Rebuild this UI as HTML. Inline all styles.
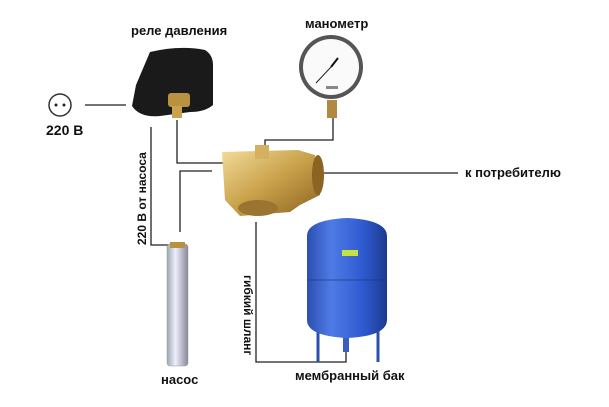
<!DOCTYPE html>
<html><head><meta charset="utf-8"><style>
html,body{margin:0;padding:0;background:#fff}
svg{display:block}
text{font-family:"Liberation Sans",sans-serif;font-weight:bold;fill:#111}
</style></head><body>
<svg width="609" height="407" viewBox="0 0 609 407" xmlns="http://www.w3.org/2000/svg">
<defs>
<linearGradient id="brass" x1="0" y1="0" x2="1" y2="1">
<stop offset="0" stop-color="#f2dc98"/><stop offset="0.5" stop-color="#c9a04a"/><stop offset="1" stop-color="#8a6420"/></linearGradient>
<linearGradient id="blue" x1="0" y1="0" x2="1" y2="0">
<stop offset="0" stop-color="#2a4fb0"/><stop offset="0.3" stop-color="#4f7be6"/><stop offset="0.7" stop-color="#2e5ad0"/><stop offset="1" stop-color="#1d3a90"/></linearGradient>
<linearGradient id="steel" x1="0" y1="0" x2="1" y2="0">
<stop offset="0" stop-color="#9aa"/><stop offset="0.4" stop-color="#eef"/><stop offset="1" stop-color="#889"/></linearGradient>
</defs>
<g stroke="#222" stroke-width="1.3" fill="none">
<line x1="85" y1="105" x2="126" y2="105"/>
<polyline points="177,120 177,163 225,163"/>
<polyline points="212,171 180,171 180,232"/>
<polyline points="151,127 151,245 172,245"/>
<polyline points="333,118 333,140 265,140 265,148"/>
<line x1="323" y1="173" x2="458" y2="173"/>
<polyline points="256,222 256,362 346,362 346,352"/>
</g>
<!-- socket -->
<circle cx="60" cy="105" r="11" fill="#fff" stroke="#333" stroke-width="1.5"/>
<circle cx="56" cy="105" r="1.5" fill="#222"/><circle cx="64" cy="105" r="1.5" fill="#222"/>
<text x="46" y="135" font-size="14">220 В</text>
<!-- relay -->
<path d="M150,52 Q180,45 205,50 Q213,55 213,65 L213,105 Q205,112 190,112 L160,116 Q140,118 132,106 L136,85 Z" fill="#1a1a1a"/>
<rect x="168" y="93" width="22" height="14" rx="3" fill="#b8923f"/>
<rect x="172" y="106" width="10" height="12" fill="#c8a24e"/>
<text x="131" y="35" font-size="13">реле давления</text>
<!-- manometer -->
<circle cx="331" cy="67" r="32" fill="#555"/>
<circle cx="331" cy="67" r="28" fill="#fafafa"/>
<line x1="331" y1="67" x2="338" y2="58" stroke="#111" stroke-width="2"/>
<line x1="331" y1="67" x2="316" y2="83" stroke="#222" stroke-width="1"/>
<rect x="326" y="86" width="12" height="3" fill="#888"/>
<rect x="327" y="100" width="10" height="18" fill="#b08a40"/>
<text x="305" y="28" font-size="13">манометр</text>
<!-- fitting -->
<path d="M222,152 L298,150 L315,155 L320,195 L300,205 L290,212 L240,216 L225,200 Z" fill="url(#brass)"/>
<rect x="255" y="145" width="14" height="14" fill="#d4b060"/>
<ellipse cx="318" cy="175" rx="6" ry="20" fill="#8a6420"/>
<ellipse cx="258" cy="208" rx="20" ry="8" fill="#9a7430"/>
<text x="465" y="177" font-size="13">к потребителю</text>
<!-- pump -->
<rect x="167" y="244" width="21" height="122" rx="3" fill="url(#steel)" stroke="#999" stroke-width="0.5"/>
<rect x="170" y="242" width="15" height="6" fill="#b8923f"/>
<text x="161" y="384" font-size="13">насос</text>
<text transform="translate(146,245) rotate(-90)" font-size="12">220 В от насоса</text>
<!-- tank -->
<line x1="318" y1="325" x2="318" y2="362" stroke="#2a4fb0" stroke-width="3"/>
<line x1="378" y1="325" x2="378" y2="362" stroke="#2a4fb0" stroke-width="3"/>
<rect x="343" y="330" width="6" height="22" fill="#3a5fc0"/>
<path d="M307,236 Q307,220 347,218 Q387,220 387,236 L387,320 Q387,336 347,338 Q307,336 307,320 Z" fill="url(#blue)"/>
<line x1="307" y1="280" x2="387" y2="280" stroke="#1d3a90" stroke-width="0.8"/>
<rect x="342" y="250" width="16" height="6" fill="#c8e040"/>
<text transform="translate(244,275) rotate(90)" font-size="12">гибкий шланг</text>
<text x="295" y="380" font-size="13">мембранный бак</text>
</svg>
</body></html>
